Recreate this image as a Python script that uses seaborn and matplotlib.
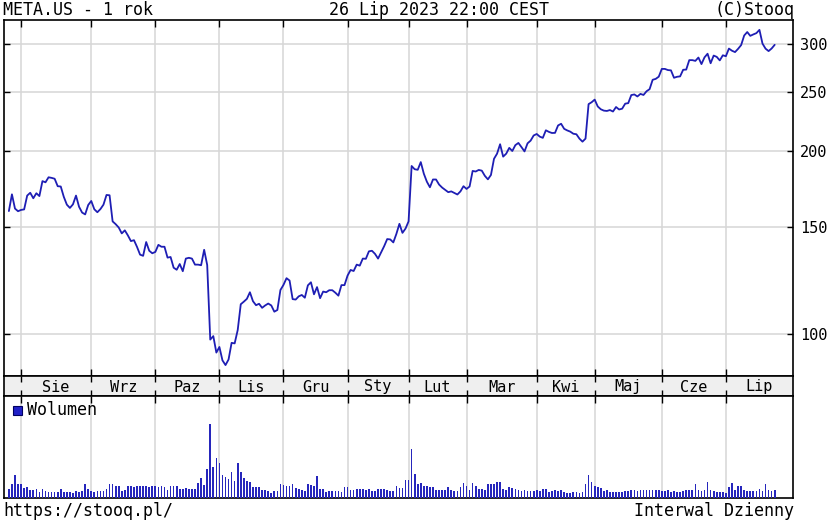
import numpy as np
import pandas as pd
import matplotlib
matplotlib.use('Agg')
import matplotlib.pyplot as plt
from matplotlib.patches import Rectangle
from matplotlib.ticker import FixedLocator, NullLocator, FixedFormatter
import seaborn as sns

# --- data: META.US daily, 26 Jul 2022 .. 26 Jul 2023 ---
month_labels = ['Sie', 'Wrz', 'Paz', 'Lis', 'Gru', 'Sty', 'Lut', 'Mar', 'Kwi', 'Maj', 'Cze', 'Lip']
# trading days per month, first entry = the tail of Jul 2022
days_per_month = [4, 23, 21, 21, 21, 21, 20, 19, 23, 19, 22, 21, 17]

close = [
    159.2, 169.6, 160.7, 159.1,
    159.9, 160.2, 168.8, 170.6, 167.1, 170.3, 168.5, 178.3, 177.5, 180.9, 180.5, 179.9,
    174.9, 174.7, 168.0, 163.1, 161.1, 163.3, 168.8, 161.8, 158.3, 157.2, 162.9,
    165.4, 160.3, 158.5, 160.4, 163.1, 169.2, 169.0, 153.1, 151.5, 149.6, 146.3, 148.0,
    145.2, 142.1, 142.6, 139.0, 135.0, 134.4, 141.6, 137.0, 135.7,
    136.4, 140.1, 139.1, 139.1, 133.5, 133.8, 128.5, 127.5, 130.3, 126.8, 133.0, 133.4,
    133.0, 130.0, 130.0, 129.7, 137.5, 129.8, 97.9, 99.2, 93.2,
    95.2, 90.5, 88.9, 90.8, 96.7, 96.5, 101.5, 111.9, 113.0, 114.2, 117.1, 113.2,
    111.5, 112.1, 110.4, 111.4, 112.2, 111.4, 108.8, 109.5, 118.1,
    120.4, 123.5, 122.4, 114.1, 113.9, 115.3, 115.9, 114.7, 120.2, 121.6, 116.2, 119.4,
    114.5, 117.4, 117.1, 118.0, 118.0, 116.9, 115.6, 120.3, 120.3,
    124.7, 127.4, 126.9, 130.0, 129.5, 133.0, 132.9, 136.7, 137.0, 135.4, 133.0, 136.2,
    139.4, 143.2, 143.0, 141.4, 146.0, 151.7, 146.6, 149.0,
    153.1, 188.8, 186.5, 186.1, 191.6, 183.4, 177.9, 174.2, 179.4, 179.4, 176.0, 174.0,
    172.5, 171.0, 171.5, 170.5, 169.5, 171.5, 174.9,
    173.1, 174.7, 185.3, 184.9, 186.0, 185.5, 181.9, 179.5, 182.5, 194.0, 197.8, 205.0,
    195.6, 197.8, 202.2, 199.8, 204.3, 206.0, 202.8, 199.5, 205.7, 207.8, 211.9,
    213.1, 211.0, 210.0, 216.1, 214.8, 213.9, 214.0, 220.1, 221.5, 217.3, 216.0, 215.0,
    213.3, 212.9, 209.4, 207.0, 209.4, 238.6, 240.3,
    242.7, 236.5, 234.0, 232.8, 232.5, 233.3, 232.0, 236.0, 233.8, 234.5, 239.0, 239.5,
    246.9, 247.5, 245.6, 248.0, 247.0, 250.5, 252.5, 261.6, 262.5, 264.7,
    272.6, 272.6, 271.4, 271.1, 263.6, 264.6, 265.0, 271.7, 271.9, 281.8, 281.8, 281.0,
    284.6, 277.6, 284.8, 288.7, 278.5, 286.7, 285.3, 281.5, 287.0,
    286.0, 294.4, 292.0, 290.5, 294.1, 298.3, 309.3, 313.4, 308.9, 310.6, 312.1, 316.0,
    300.0, 294.3, 291.6, 294.5, 298.6,
]

# volume in millions of shares
volume = [
    27, 42, 69, 42, 42, 29, 32, 25, 25, 27, 19, 27, 22, 17, 17, 19, 19, 27, 19, 17,
    19, 15, 22, 17, 22, 42, 27, 22, 19, 22, 22, 22, 27, 42, 42, 35, 37, 22, 25, 37,
    35, 32, 35, 35, 37, 37, 32, 35, 35, 32, 37, 32, 25, 37, 35, 35, 27, 27, 29, 27,
    27, 27, 45, 59, 39, 87, 222, 92, 119, 105, 69, 62, 57, 77, 52, 104, 77, 59, 52, 49,
    32, 32, 32, 25, 25, 22, 15, 22, 22, 42, 39, 37, 35, 42, 29, 27, 24, 22, 42, 39,
    35, 65, 27, 27, 19, 22, 22, 22, 22, 19, 32, 32, 25, 25, 27, 27, 27, 25, 27, 22,
    22, 27, 27, 27, 25, 22, 22, 37, 29, 29, 55, 55, 147, 72, 42, 45, 37, 37, 32, 32,
    25, 25, 25, 25, 32, 25, 22, 22, 32, 45, 35, 25, 45, 35, 27, 27, 25, 42, 42, 42,
    49, 49, 27, 25, 32, 29, 27, 25, 22, 25, 22, 22, 22, 25, 22, 27, 27, 19, 22, 25,
    22, 25, 19, 15, 15, 17, 17, 15, 19, 42, 69, 49, 35, 32, 29, 22, 25, 19, 19, 17,
    19, 19, 22, 22, 25, 25, 22, 25, 25, 25, 25, 25, 25, 25, 22, 22, 25, 19, 22, 19,
    19, 22, 25, 25, 25, 42, 25, 22, 25, 49, 25, 22, 19, 19, 19, 15, 32, 45, 25, 37,
    37, 25, 22, 22, 22, 22, 27, 22, 42, 25, 22, 25,
]

df = pd.DataFrame({'day': np.arange(len(close)), 'close': close, 'volume': volume})
month_starts = np.cumsum(days_per_month)[:-1]

# --- style ---
sns.set_theme(style='white')
plt.rcParams['font.family'] = ['DejaVu Sans Mono']
plt.rcParams['text.color'] = 'black'
plt.rcParams['axes.edgecolor'] = 'black'

W, H = 830, 524
fig = plt.figure(figsize=(W / 100, H / 100), dpi=100)


def box(x0, y0, x1, y1):
    return [x0 / W, 1 - y1 / H, (x1 - x0) / W, (y1 - y0) / H]


ax_p = fig.add_axes(box(4, 20, 793, 376))
ax_m = fig.add_axes(box(4, 376, 793, 396))
ax_v = fig.add_axes(box(4, 396, 793, 498))

x_min, x_max = -1.6, 257
grid_c = '#d6d6d6'
line_c = '#1e1eb4'

# --- price panel ---
ax_p.set_yscale('log')
sns.lineplot(data=df, x='day', y='close', ax=ax_p, color=line_c, lw=1.3, zorder=3)
ax_p.set_xlim(x_min, x_max)
ax_p.set_ylim(85.3, 328)
ax_p.yaxis.set_major_locator(FixedLocator([100, 150, 200, 250, 300]))
ax_p.yaxis.set_major_formatter(FixedFormatter(['100', '150', '200', '250', '300']))
ax_p.yaxis.set_minor_locator(NullLocator())
ax_p.xaxis.set_major_locator(FixedLocator(month_starts))
ax_p.xaxis.set_minor_locator(NullLocator())
ax_p.grid(True, color=grid_c, lw=1.1, zorder=0)
ax_p.set_axisbelow(True)
ax_p.tick_params(axis='x', direction='in', top=True, bottom=True, length=5, width=1,
                 color='black', labelbottom=False)
ax_p.tick_params(axis='y', direction='in', left=True, right=True, length=4, width=1,
                 color='black', labelleft=False, labelright=True, labelsize=11,
                 labelcolor='black', pad=5)
ax_p.set_xlabel('')
ax_p.set_ylabel('')

# --- month strip ---
ax_m.set_facecolor('#efefef')
ax_m.set_xlim(x_min, x_max)
ax_m.set_ylim(0, 1)
ax_m.set_yticks([])
ax_m.xaxis.set_major_locator(FixedLocator(month_starts))
ax_m.tick_params(axis='x', direction='in', top=True, bottom=True, length=4, width=1,
                 color='black', labelbottom=False)
edges = list(month_starts) + [x_max]
for k, lab in enumerate(month_labels):
    ax_m.text((edges[k] + edges[k + 1]) / 2, 0.45, lab, ha='center', va='center',
              fontsize=11, color='black')

# --- volume panel ---
sns.barplot(data=df, x='day', y='volume', native_scale=True, ax=ax_v, color='#2626bc',
            width=0.55, errorbar=None, saturation=1, linewidth=0, zorder=3)
ax_v.set_xlim(x_min, x_max)
ax_v.set_ylim(0, 306)
ax_v.set_yticks([])
ax_v.xaxis.set_major_locator(FixedLocator(month_starts))
ax_v.xaxis.set_minor_locator(NullLocator())
ax_v.grid(True, axis='x', color=grid_c, lw=1.1, zorder=0)
ax_v.set_axisbelow(True)
ax_v.tick_params(axis='x', direction='in', top=True, bottom=False, length=5, width=1,
                 color='black', labelbottom=False)
ax_v.set_xlabel('')
ax_v.set_ylabel('')

for ax in (ax_p, ax_m, ax_v):
    for s in ax.spines.values():
        s.set_color('black')
        s.set_linewidth(1.2)
        s.set_visible(True)

fig.add_artist(Rectangle((13 / W, 1 - 415 / H), 9 / W, 9 / H, transform=fig.transFigure,
                         facecolor='#2020c8', edgecolor='#000060', lw=0.8))
fig.text(27 / W, 1 - 410 / H, 'Wolumen', ha='left', va='center', fontsize=12)

# --- header / footer ---
fig.text(3 / W, 1 - 10 / H, 'META.US - 1 rok', ha='left', va='center', fontsize=12)
fig.text(439 / W, 1 - 10 / H, '26 Lip 2023 22:00 CEST', ha='center', va='center', fontsize=12)
fig.text(794 / W, 1 - 10 / H, '(C)Stooq', ha='right', va='center', fontsize=12)
fig.text(3 / W, 1 - 511 / H, 'https://stooq.pl/', ha='left', va='center', fontsize=12)
fig.text(794 / W, 1 - 511 / H, 'Interwal Dzienny', ha='right', va='center', fontsize=12)

fig.savefig('out.png', dpi=100)
